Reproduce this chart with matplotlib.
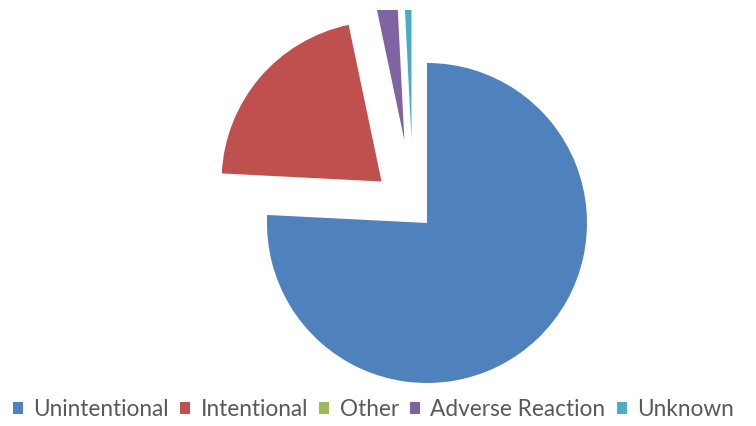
import matplotlib
matplotlib.use("Agg")
from matplotlib import pyplot as plt

labels = ["Unintentional", "Intentional", "Other", "Adverse Reaction", "Unknown"]
values = [75.8, 20.9, 0.0, 2.5, 0.8]
colors = ["#4F81BD", "#C0504D", "#9BBB59", "#8064A2", "#4BACC6"]
explode = [0.125, 0.26, 0.0, 0.43, 0.43]

plt.rcParams['font.family'] = ['Lato', 'DejaVu Sans']

W, H = 756, 426
fig = plt.figure(figsize=(W/100, H/100), dpi=100)

# pie centre at pixel (413, 208.5), radius 160 px, clipped at top like the plot area
cx, cy, r = 413.2, 208.5, 160.0
top, bot = 10, 390
ax = fig.add_axes([0, (H-bot)/H, 1, (bot-top)/H])
wedges, _ = ax.pie(values, colors=colors, explode=explode, startangle=90,
                   counterclock=False, radius=1.0)
for w in wedges:
    w.set_clip_on(True)
ax.set_aspect('auto')
ax.set_xlim(-cx/r, (W-cx)/r)
ax.set_ylim((cy-bot)/r, (cy-top)/r)
ax.axis('off')

fs = 16.3
fig.legend(wedges, labels, loc='center', bbox_to_anchor=(0.494, 1-410/H), ncol=5,
           frameon=False, fontsize=fs, labelcolor='#595959',
           handlelength=0.44, handleheight=0.44, handletextpad=0.45,
           columnspacing=0.5, borderaxespad=0)

fig.savefig("out.png", dpi=100)
